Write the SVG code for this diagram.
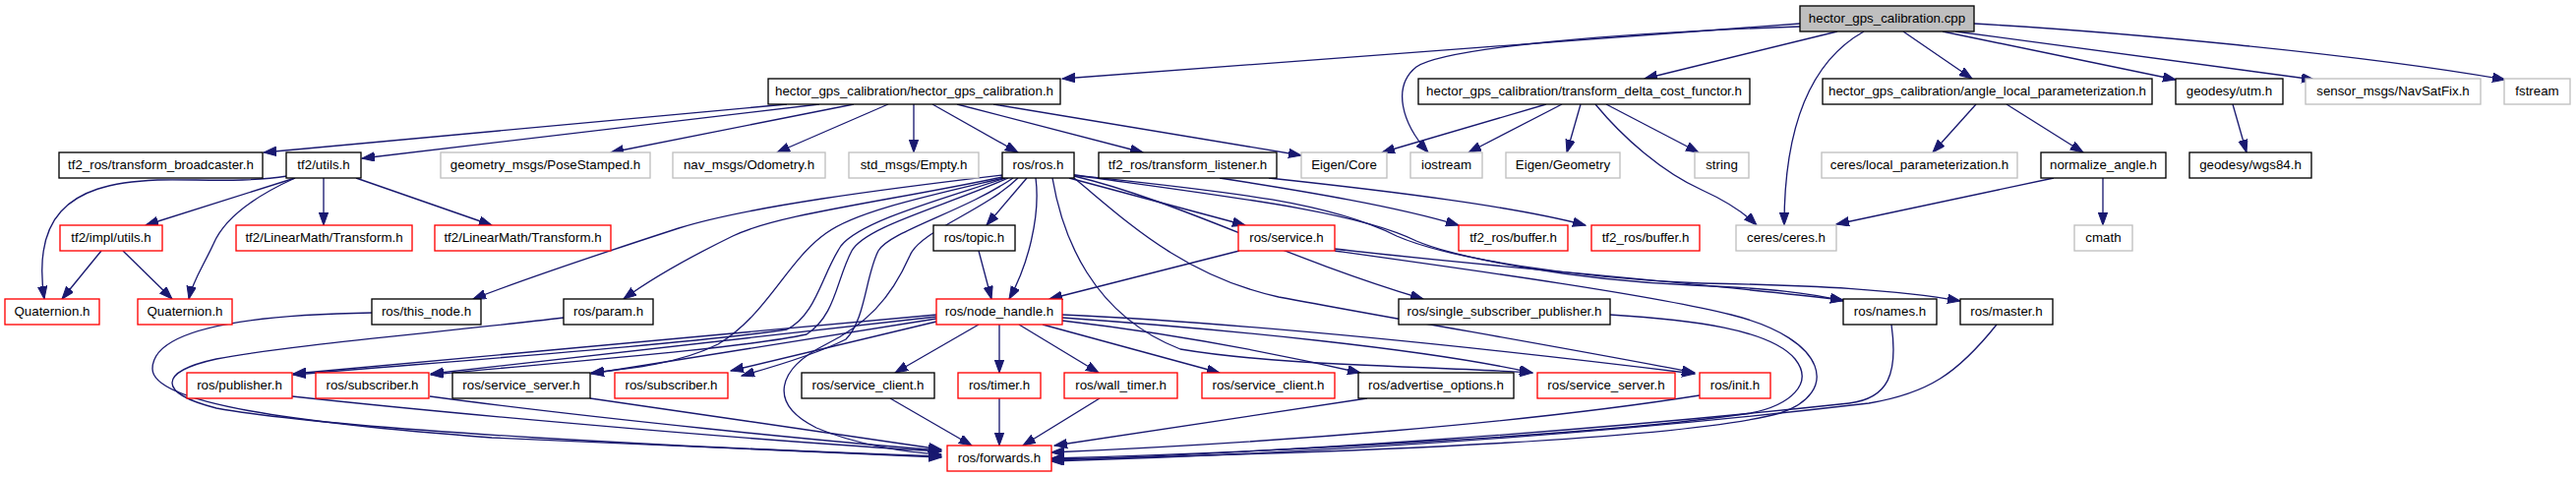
<svg xmlns="http://www.w3.org/2000/svg" width="2619" height="485" viewBox="0 0 2619 485">
<style>
rect{fill:#fff;stroke-width:1.33}
.k rect{stroke:#000}
.r rect{stroke:#ff0000}
.g rect{stroke:#bfbfbf}
.root rect{fill:#bfbfbf;stroke:#000}
text{font-family:"Liberation Sans",Arial,Helvetica,sans-serif;font-size:13.33px;text-anchor:middle;fill:#000}
#edges path{fill:none;stroke:#191970;stroke-width:1.33;marker-end:url(#a)}
</style>
<defs>
<marker id="a" markerUnits="userSpaceOnUse" markerWidth="14" markerHeight="10" refX="13" refY="4.7" orient="auto"><path d="M0,0 L13,4.7 L0,9.4 Z" fill="#191970" stroke="#191970" stroke-width="1"/></marker>
</defs>
<rect x="0" y="0" width="2619" height="485" style="fill:#fff;stroke:none"/>
<g id="edges">
<path d="M1830,24 L1080,80"/>
<path d="M1830,27 C1650,33 1470,48 1440,68 C1415,88 1425,125 1452,155"/>
<path d="M1868,32 L1672,80"/>
<path d="M1895,32 C1845,60 1814,120 1814,229"/>
<path d="M1935,32 L2005,80"/>
<path d="M1975,32 L2212,81"/>
<path d="M1988,32 L2353,81"/>
<path d="M2007,24 C2150,32 2400,55 2547,81"/>
<path d="M800,106 L268,155"/>
<path d="M833,106 L368,161"/>
<path d="M868,106 L621,155"/>
<path d="M903,106 L790,155"/>
<path d="M929,106 L929,155"/>
<path d="M948,106 L1035,155"/>
<path d="M973,106 L1162,155"/>
<path d="M1010,106 L1323,158"/>
<path d="M1572,106 L1405,155"/>
<path d="M1588,106 L1493,155"/>
<path d="M1607,106 L1593,155"/>
<path d="M1633,106 L1727,155"/>
<path d="M1622,106 C1650,140 1690,175 1730,193 C1752,203 1772,215 1786,229"/>
<path d="M2009,106 L1965,155"/>
<path d="M2040,106 L2118,155"/>
<path d="M2088,181 L1867,228"/>
<path d="M2138,181 L2138,229"/>
<path d="M2270,106 L2284,155"/>
<path d="M300,181 L148,229"/>
<path d="M329,181 L329,229"/>
<path d="M362,181 L500,229"/>
<path d="M292,179 C250,186 200,182 160,183 C110,185 80,195 62,215 C42,237 40,270 45,304"/>
<path d="M300,181 C258,200 228,222 217,248 C207,270 196,285 192,304"/>
<path d="M103,255 L63,304"/>
<path d="M125,255 L175,304"/>
<path d="M1044,181 L1003,229"/>
<path d="M1053,181 C1058,220 1045,270 1026,304"/>
<path d="M995,255 L1008,304"/>
<path d="M1260,255 L1067,304"/>
<path d="M1087,181 L1266,229"/>
<path d="M1240,181 C1330,195 1420,210 1483,229"/>
<path d="M1290,181 C1420,195 1540,210 1612,229"/>
<path d="M1019,178 C900,192 760,210 690,232 C610,258 530,285 481,304"/>
<path d="M1019,180 C900,205 790,218 745,240 C700,262 660,285 634,304"/>
<path d="M1020,181 C940,200 870,215 840,237 C800,265 780,320 730,350 C690,370 640,375 601,379"/>
<path d="M1022,181 C950,205 875,225 855,250 C835,280 830,320 800,335 C700,350 450,368 298,381"/>
<path d="M1025,181 C960,210 880,230 866,255 C850,285 850,320 820,340 C750,355 550,370 438,381"/>
<path d="M1030,181 C980,215 905,235 893,255 C880,280 880,325 860,345 C830,360 790,372 754,382"/>
<path d="M1035,181 C1000,215 935,235 925,260 C905,305 880,330 840,350 C790,375 780,410 830,435 C870,452 920,460 957,462"/>
<path d="M952,320 L298,380"/>
<path d="M952,322 L438,380"/>
<path d="M952,324 L601,380"/>
<path d="M952,327 L743,377"/>
<path d="M995,330 L910,379"/>
<path d="M1016,330 L1016,379"/>
<path d="M1036,330 L1117,379"/>
<path d="M1060,330 L1240,379"/>
<path d="M1080,326 C1200,340 1300,360 1383,379"/>
<path d="M1080,323 C1250,335 1450,355 1558,379"/>
<path d="M1080,320 C1300,330 1560,360 1723,380"/>
<path d="M1092,179 C1200,205 1300,260 1447,304"/>
<path d="M1092,181 C1140,220 1200,280 1300,302 C1450,330 1600,355 1723,379"/>
<path d="M1070,181 C1080,240 1110,320 1200,355 C1300,372 1450,372 1558,379"/>
<path d="M1092,178 C1250,200 1380,215 1440,245 C1480,262 1600,285 1720,290 C1800,293 1840,298 1874,306"/>
<path d="M1092,178 C1250,195 1350,205 1420,240 C1470,262 1600,283 1730,288 C1850,290 1930,295 1993,306"/>
<path d="M1357,253 C1500,270 1700,285 1874,305"/>
<path d="M1357,255 C1500,275 1680,300 1760,320 C1860,345 1870,400 1810,420 C1720,445 1400,460 1069,467"/>
<path d="M1637,320 C1720,325 1800,335 1825,365 C1845,390 1820,412 1780,420 C1650,440 1300,460 1069,466"/>
<path d="M1923,330 C1930,380 1920,405 1880,410 C1600,440 1300,460 1069,468"/>
<path d="M2030,330 C1990,380 1960,400 1900,410 C1600,445 1300,462 1069,469"/>
<path d="M1728,402 C1550,430 1300,450 1069,460"/>
<path d="M1390,405 L1072,453"/>
<path d="M1118,405 L1040,453"/>
<path d="M1016,405 L1016,453"/>
<path d="M905,405 L988,453"/>
<path d="M297,403 C500,425 800,450 957,459"/>
<path d="M437,403 C600,425 850,450 957,458"/>
<path d="M600,405 C700,420 880,445 957,457"/>
<path d="M378,318 C250,320 155,335 155,375 C155,410 300,430 500,445 C700,455 880,462 957,465"/>
<path d="M573,323 C450,338 300,350 220,365 C160,378 160,400 220,415 C350,438 700,455 957,464"/>
</g>
<g id="n_cpp" class="root"><rect x="1830" y="6" width="177" height="26"/><text x="1918.5" y="23">hector_gps_calibration.cpp</text></g>
<g id="n_h1" class="k"><rect x="781" y="80" width="297" height="26"/><text x="929.5" y="97">hector_gps_calibration/hector_gps_calibration.h</text></g>
<g id="n_tdcf" class="k"><rect x="1442" y="80" width="337" height="26"/><text x="1610.5" y="97">hector_gps_calibration/transform_delta_cost_functor.h</text></g>
<g id="n_alp" class="k"><rect x="1853" y="80" width="335" height="26"/><text x="2020.5" y="97">hector_gps_calibration/angle_local_parameterization.h</text></g>
<g id="n_utm" class="k"><rect x="2212" y="80" width="109" height="26"/><text x="2266.5" y="97">geodesy/utm.h</text></g>
<g id="n_navsat" class="g"><rect x="2344" y="80" width="178" height="26"/><text x="2433" y="97">sensor_msgs/NavSatFix.h</text></g>
<g id="n_fstream" class="g"><rect x="2546" y="80" width="67" height="26"/><text x="2579.5" y="97">fstream</text></g>
<g id="n_bcast" class="k"><rect x="60" y="155" width="207" height="26"/><text x="163.5" y="172">tf2_ros/transform_broadcaster.h</text></g>
<g id="n_utils" class="k"><rect x="291" y="155" width="76" height="26"/><text x="329" y="172">tf2/utils.h</text></g>
<g id="n_pose" class="g"><rect x="448" y="155" width="213" height="26"/><text x="554.5" y="172">geometry_msgs/PoseStamped.h</text></g>
<g id="n_odom" class="g"><rect x="684" y="155" width="155" height="26"/><text x="761.5" y="172">nav_msgs/Odometry.h</text></g>
<g id="n_empty" class="g"><rect x="863" y="155" width="132" height="26"/><text x="929" y="172">std_msgs/Empty.h</text></g>
<g id="n_ros" class="k"><rect x="1019" y="155" width="73" height="26"/><text x="1055.5" y="172">ros/ros.h</text></g>
<g id="n_listener" class="k"><rect x="1117" y="155" width="181" height="26"/><text x="1207.5" y="172">tf2_ros/transform_listener.h</text></g>
<g id="n_eigencore" class="g"><rect x="1323" y="155" width="87" height="26"/><text x="1366.5" y="172">Eigen/Core</text></g>
<g id="n_iostream" class="g"><rect x="1434" y="155" width="73" height="26"/><text x="1470.5" y="172">iostream</text></g>
<g id="n_eigengeom" class="g"><rect x="1531" y="155" width="116" height="26"/><text x="1589" y="172">Eigen/Geometry</text></g>
<g id="n_string" class="g"><rect x="1723" y="155" width="55" height="26"/><text x="1750.5" y="172">string</text></g>
<g id="n_cereslocal" class="g"><rect x="1852" y="155" width="199" height="26"/><text x="1951.5" y="172">ceres/local_parameterization.h</text></g>
<g id="n_normalize" class="k"><rect x="2075" y="155" width="127" height="26"/><text x="2138.5" y="172">normalize_angle.h</text></g>
<g id="n_wgs84" class="k"><rect x="2226" y="155" width="124" height="26"/><text x="2288" y="172">geodesy/wgs84.h</text></g>
<g id="n_implutils" class="r"><rect x="61" y="229" width="104" height="26"/><text x="113" y="246">tf2/impl/utils.h</text></g>
<g id="n_lmt1" class="r"><rect x="240" y="229" width="179" height="26"/><text x="329.5" y="246">tf2/LinearMath/Transform.h</text></g>
<g id="n_lmt2" class="r"><rect x="442" y="229" width="179" height="26"/><text x="531.5" y="246">tf2/LinearMath/Transform.h</text></g>
<g id="n_topic" class="k"><rect x="949" y="229" width="83" height="26"/><text x="990.5" y="246">ros/topic.h</text></g>
<g id="n_service" class="r"><rect x="1259" y="229" width="98" height="26"/><text x="1308" y="246">ros/service.h</text></g>
<g id="n_buffer1" class="r"><rect x="1483" y="229" width="111" height="26"/><text x="1538.5" y="246">tf2_ros/buffer.h</text></g>
<g id="n_buffer2" class="r"><rect x="1618" y="229" width="110" height="26"/><text x="1673" y="246">tf2_ros/buffer.h</text></g>
<g id="n_ceres" class="g"><rect x="1765" y="229" width="102" height="26"/><text x="1816" y="246">ceres/ceres.h</text></g>
<g id="n_cmath" class="g"><rect x="2109" y="229" width="59" height="26"/><text x="2138.5" y="246">cmath</text></g>
<g id="n_quat1" class="r"><rect x="5" y="304" width="96" height="26"/><text x="53" y="321">Quaternion.h</text></g>
<g id="n_quat2" class="r"><rect x="140" y="304" width="96" height="26"/><text x="188" y="321">Quaternion.h</text></g>
<g id="n_thisnode" class="k"><rect x="378" y="304" width="111" height="26"/><text x="433.5" y="321">ros/this_node.h</text></g>
<g id="n_param" class="k"><rect x="573" y="304" width="91" height="26"/><text x="618.5" y="321">ros/param.h</text></g>
<g id="n_nodehandle" class="r"><rect x="952" y="304" width="128" height="26"/><text x="1016" y="321">ros/node_handle.h</text></g>
<g id="n_ssp" class="k"><rect x="1422" y="304" width="215" height="26"/><text x="1529.5" y="321">ros/single_subscriber_publisher.h</text></g>
<g id="n_names" class="k"><rect x="1874" y="304" width="95" height="26"/><text x="1921.5" y="321">ros/names.h</text></g>
<g id="n_master" class="k"><rect x="1993" y="304" width="94" height="26"/><text x="2040" y="321">ros/master.h</text></g>
<g id="n_publisher" class="r"><rect x="190" y="379" width="107" height="26"/><text x="243.5" y="396">ros/publisher.h</text></g>
<g id="n_sub1" class="r"><rect x="321" y="379" width="115" height="26"/><text x="378.5" y="396">ros/subscriber.h</text></g>
<g id="n_ss1" class="k"><rect x="460" y="379" width="140" height="26"/><text x="530" y="396">ros/service_server.h</text></g>
<g id="n_sub2" class="r"><rect x="625" y="379" width="115" height="26"/><text x="682.5" y="396">ros/subscriber.h</text></g>
<g id="n_sc1" class="k"><rect x="815" y="379" width="135" height="26"/><text x="882.5" y="396">ros/service_client.h</text></g>
<g id="n_timer" class="r"><rect x="974" y="379" width="84" height="26"/><text x="1016" y="396">ros/timer.h</text></g>
<g id="n_walltimer" class="r"><rect x="1082" y="379" width="115" height="26"/><text x="1139.5" y="396">ros/wall_timer.h</text></g>
<g id="n_sc2" class="r"><rect x="1222" y="379" width="135" height="26"/><text x="1289.5" y="396">ros/service_client.h</text></g>
<g id="n_advopt" class="k"><rect x="1381" y="379" width="158" height="26"/><text x="1460" y="396">ros/advertise_options.h</text></g>
<g id="n_ss2" class="r"><rect x="1563" y="379" width="140" height="26"/><text x="1633" y="396">ros/service_server.h</text></g>
<g id="n_init" class="r"><rect x="1728" y="379" width="72" height="26"/><text x="1764" y="396">ros/init.h</text></g>
<g id="n_forwards" class="r"><rect x="963" y="453" width="106" height="26"/><text x="1016" y="470">ros/forwards.h</text></g>
</svg>
